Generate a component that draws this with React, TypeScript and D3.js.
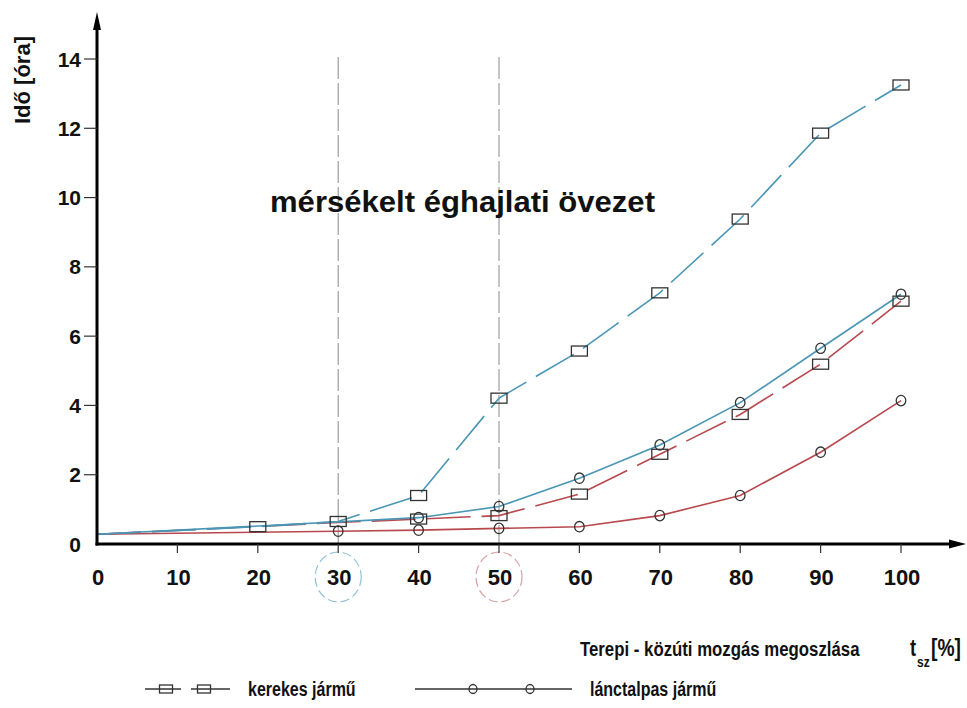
import React from "react";
import * as d3 from "d3";

// ---- data ----
const kerekesBlueX = [0, 20, 30, 40, 50, 60, 70, 80, 90, 100];
const kerekesBlueY = [0.28, 0.5, 0.65, 1.4, 4.21, 5.57, 7.25, 9.38, 11.86, 13.25];
const kerekesBlueMarkers = [20, 30, 40, 50, 60, 70, 80, 90, 100];

const lanctalpasBlueX = [0, 40, 50, 60, 70, 80, 90, 100];
const lanctalpasBlueY = [0.28, 0.76, 1.08, 1.9, 2.86, 4.08, 5.65, 7.21];
const lanctalpasBlueMarkers = [40, 50, 60, 70, 80, 90, 100];

const kerekesRedX = [0, 30, 40, 50, 60, 70, 80, 90, 100];
const kerekesRedY = [0.28, 0.62, 0.72, 0.82, 1.44, 2.59, 3.74, 5.19, 7.01];
const kerekesRedMarkers = [40, 50, 60, 70, 80, 90, 100];

const lanctalpasRedX = [0, 30, 40, 50, 60, 70, 80, 90, 100];
const lanctalpasRedY = [0.28, 0.37, 0.4, 0.45, 0.5, 0.82, 1.4, 2.65, 4.14];
const lanctalpasRedMarkers = [30, 40, 50, 60, 70, 80, 90, 100];

const xTicks = [0, 10, 20, 30, 40, 50, 60, 70, 80, 90, 100];
const yTicks = [0, 2, 4, 6, 8, 10, 12, 14];
const refLines = [30, 50];

const BLUE = "#4a96b6";
const RED = "#b8494e";
const MARK = "#333";
const FONT = "'Liberation Sans', Arial, sans-serif";
const NARROW_SCALE = 0.8;

const x = d3.scaleLinear().domain([0, 100]).range([97, 901]);
const y = d3.scaleLinear().domain([0, 14]).range([544, 59]);

type S = { xs: number[]; ys: number[]; marks: number[]; color: string; dashed: boolean; shape: "sq" | "ci" };

const series: S[] = [
  { xs: lanctalpasRedX, ys: lanctalpasRedY, marks: lanctalpasRedMarkers, color: RED, dashed: false, shape: "ci" },
  { xs: kerekesRedX, ys: kerekesRedY, marks: kerekesRedMarkers, color: RED, dashed: true, shape: "sq" },
  { xs: lanctalpasBlueX, ys: lanctalpasBlueY, marks: lanctalpasBlueMarkers, color: BLUE, dashed: false, shape: "ci" },
  { xs: kerekesBlueX, ys: kerekesBlueY, marks: kerekesBlueMarkers, color: BLUE, dashed: true, shape: "sq" },
];

const line = d3
  .line<[number, number]>()
  .x((d) => x(d[0]))
  .y((d) => y(d[1]));

function Marker({ cx, cy, shape, small }: { cx: number; cy: number; shape: string; small?: boolean }) {
  if (shape === "sq") {
    const w = small ? 13 : 16;
    const h = small ? 8 : 10;
    return <rect x={cx - w / 2} y={cy - h / 2} width={w} height={h} fill="none" stroke={MARK} strokeWidth={1.3} />;
  }
  return <ellipse cx={cx} cy={cy} rx={small ? 4 : 4.8} ry={small ? 4.5 : 5.2} fill="none" stroke={MARK} strokeWidth={1.3} />;
}

function Narrow({ x0, y0, size, anchor, children }: { x0: number; y0: number; size: number; anchor?: string; children: React.ReactNode }) {
  return (
    <text
      transform={`translate(${x0},${y0}) scale(${NARROW_SCALE},1)`}
      textAnchor={anchor || "start"}
      fontSize={size}
      fontWeight="bold"
      fill="#111"
    >
      {children}
    </text>
  );
}

export default function App() {
  return (
    <svg
      width={967}
      height={708}
      style={{ position: "absolute", left: 0, top: 0, background: "#fff" }}
      fontFamily={FONT}
    >
      {/* reference vertical dashed lines */}
      {refLines.map((v) => (
        <line key={v} x1={x(v)} x2={x(v)} y1={57} y2={544} stroke="#8a8a8a" strokeWidth={1} strokeDasharray="22,4" />
      ))}

      {/* circled tick labels */}
      <ellipse cx={x(30)} cy={577} rx={23} ry={25} fill="none" stroke="#93c2d8" strokeWidth={1.2} strokeDasharray="9,4" />
      <ellipse cx={x(50)} cy={577} rx={23} ry={25} fill="none" stroke="#d9a2a4" strokeWidth={1.2} strokeDasharray="9,4" />

      {/* series lines */}
      {series.map((s, i) => (
        <path
          key={i}
          d={line(s.xs.map((v, j) => [v, s.ys[j]] as [number, number])) || ""}
          fill="none"
          stroke={s.color}
          strokeWidth={1.6}
          strokeDasharray={s.dashed ? "44,11" : undefined}
        />
      ))}
      {series.map((s, i) =>
        s.marks.map((m) => {
          const j = s.xs.indexOf(m);
          return <Marker key={i + "-" + m} cx={x(m)} cy={y(s.ys[j])} shape={s.shape} />;
        })
      )}

      {/* axes */}
      <line x1={97} x2={97} y1={20} y2={545.5} stroke="#000" strokeWidth={3} />
      <path d="M97,12 L93,30 L101,30 Z" fill="#000" />
      <line x1={95.5} x2={952} y1={544} y2={544} stroke="#000" strokeWidth={3} />
      <path d="M966,544 L949,539.5 L949,548.5 Z" fill="#000" />

      {yTicks.map((t) => (
        <g key={t}>
          {t > 0 && <line x1={84} x2={97} y1={y(t)} y2={y(t)} stroke="#333" strokeWidth={1.2} />}
          <text x={81} y={y(t) + 7.5} textAnchor="end" fontSize={21} fontWeight="bold" fill="#111">
            {t}
          </text>
        </g>
      ))}
      {xTicks.map((t) => (
        <g key={t}>
          {t > 0 && <line x1={x(t)} x2={x(t)} y1={544} y2={553} stroke="#333" strokeWidth={1.2} />}
          <text x={x(t) + 1} y={585} textAnchor="middle" fontSize={22} fontWeight="bold" fill="#111">
            {t}
          </text>
        </g>
      ))}

      {/* axis labels */}
      <text
        transform="translate(30,80) rotate(-90)"
        textAnchor="middle"
        fontSize={22}
        fontWeight="bold"
        fill="#111"
      >
        Idő [óra]
      </text>
      <text x={270} y={212} fontSize={30} fontWeight="bold" fill="#111" textLength={385} lengthAdjust="spacingAndGlyphs">
        mérsékelt éghajlati övezet
      </text>
      <Narrow x0={580} y0={656} size={21}>Terepi - közúti mozgás megoszlása</Narrow>
      <Narrow x0={910} y0={656} size={23}>t</Narrow>
      <Narrow x0={917} y0={667} size={15}>sz</Narrow>
      <Narrow x0={931} y0={656} size={24}>[%]</Narrow>

      {/* legend */}
      <g>
        <line x1={145} x2={181} y1={689} y2={689} stroke="#333" strokeWidth={1.4} />
        <line x1={191} x2={230} y1={689} y2={689} stroke="#333" strokeWidth={1.4} />
        <Marker cx={166} cy={689} shape="sq" small />
        <Marker cx={204} cy={689} shape="sq" small />
        <Narrow x0={248} y0={696} size={20}>kerekes jármű</Narrow>
        <line x1={415} x2={572} y1={689} y2={689} stroke="#333" strokeWidth={1.4} />
        <Marker cx={473} cy={689} shape="ci" small />
        <Marker cx={530} cy={689} shape="ci" small />
        <Narrow x0={590} y0={696} size={20}>lánctalpas jármű</Narrow>
      </g>
    </svg>
  );
}
